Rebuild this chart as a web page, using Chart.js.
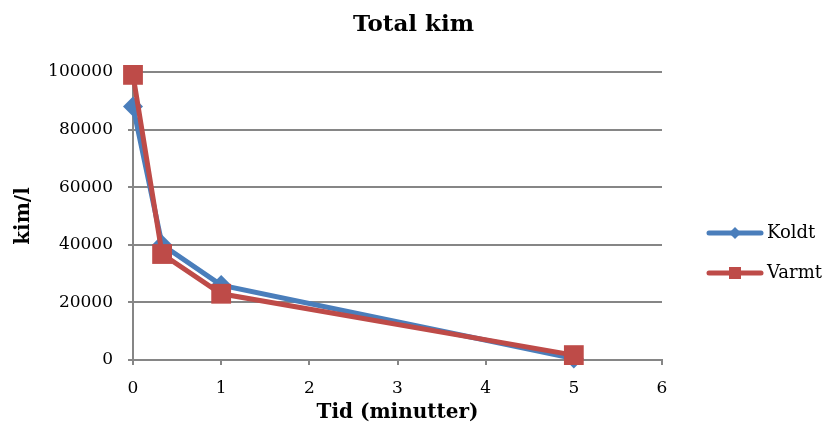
<!DOCTYPE html>
<html>
<head>
<meta charset="utf-8">
<script src="https://cdn.jsdelivr.net/npm/chart.js@4/dist/chart.umd.min.js"></script>
<style>
html,body{margin:0;padding:0;background:#fff;}
#wrap{width:827px;height:426px;position:relative;}
</style>
</head>
<body>
<div id="wrap"><canvas id="c" width="827" height="426"></canvas></div>
<script>
const chartTitle = 'Total kim';
const timeMinutes = [0, 0.33, 1, 5];
const koldtValues = [88000, 40000, 26000, 500];
const varmtValues = [99000, 36800, 23000, 1700];
const seriesNames = ['Koldt', 'Varmt'];
const xTicks = [0, 1, 2, 3, 4, 5, 6];
const yTicks = [0, 20000, 40000, 60000, 80000, 100000];

const BLUE = '#4a7ebb';
const RED = '#be4b48';
const GRID = '#868686';
const FONT = "'DejaVu Serif', Georgia, serif";

const toPts = (xs, ys) => xs.map((x, i) => ({x: x, y: ys[i]}));

const decorPlugin = {
  id: 'decor',
  afterDraw(chart) {
    const ctx = chart.ctx;
    ctx.save();
    ctx.fillStyle = '#000';
    ctx.font = "bold 23px " + FONT;
    ctx.textAlign = 'center';
    ctx.textBaseline = 'middle';
    ctx.fillText(chartTitle, chart.width / 2, 25);
    ctx.restore();
    chart.data.datasets.forEach((ds, i) => {
      const y = 233 + i * 40;
      ctx.save();
      ctx.strokeStyle = ds.borderColor;
      ctx.lineWidth = 5;
      ctx.lineCap = 'round';
      ctx.beginPath(); ctx.moveTo(709, y); ctx.lineTo(761, y); ctx.stroke();
      ctx.fillStyle = ds.borderColor;
      if (ds.pointStyle === 'rectRot') {
        ctx.beginPath();
        ctx.moveTo(735, y - 6); ctx.lineTo(741, y); ctx.lineTo(735, y + 6); ctx.lineTo(729, y);
        ctx.closePath(); ctx.fill();
      } else {
        ctx.fillRect(729, y - 6, 12, 12);
      }
      ctx.fillStyle = '#000';
      ctx.font = "18px " + FONT;
      ctx.textBaseline = 'middle';
      ctx.textAlign = 'left';
      ctx.fillText(ds.label, 767, y);
      ctx.restore();
    });
  }
};

new Chart(document.getElementById('c'), {
  type: 'scatter',
  data: {
    datasets: [
      {label: seriesNames[0], data: toPts(timeMinutes, koldtValues), showLine: true, order: 1,
       borderColor: BLUE, backgroundColor: BLUE, borderWidth: 5,
       pointStyle: 'rectRot', pointRadius: 10, pointHoverRadius: 10, pointBorderWidth: 0, clip: false},
      {label: seriesNames[1], data: toPts(timeMinutes, varmtValues), showLine: true, order: 0,
       borderColor: RED, backgroundColor: RED, borderWidth: 5,
       pointStyle: 'rect', pointRadius: 14, pointHoverRadius: 14, pointBorderWidth: 0, clip: false}
    ]
  },
  options: {
    responsive: false,
    animation: false,
    layout: {padding: {left: 0, right: 165, top: 72, bottom: 0}},
    plugins: {
      legend: {display: false},
      tooltip: {enabled: false},
      title: {display: false}
    },
    scales: {
      x: {
        type: 'linear', min: 0, max: 6,
        afterFit(s) { s.height = 66; },
        afterBuildTicks(s) { s.ticks = xTicks.map(v => ({value: v})); },
        grid: {drawOnChartArea: false, drawTicks: true, tickLength: 5, color: GRID, lineWidth: 2},
        border: {color: GRID, width: 2},
        ticks: {color: '#000', font: {family: FONT, size: 17}, padding: 13, maxRotation: 0},
        title: {display: true, text: 'Tid (minutter)', color: '#000',
          font: {family: FONT, size: 20, weight: 'bold'}, padding: {top: 0, bottom: 1}}
      },
      y: {
        type: 'linear', min: 0, max: 100000,
        afterFit(s) { s.width = 133; },
        afterBuildTicks(s) { s.ticks = yTicks.map(v => ({value: v})); },
        grid: {drawOnChartArea: true, drawTicks: true, tickLength: 5, color: GRID, lineWidth: 2},
        border: {color: GRID, width: 2},
        ticks: {color: '#000', font: {family: FONT, size: 17}, padding: 15,
          callback: v => String(v)},
        title: {display: true, text: 'kim/l', color: '#000',
          font: {family: FONT, size: 20, weight: 'bold'}, padding: {top: 12, bottom: 4}}
      }
    }
  },
  plugins: [decorPlugin]
});
</script>
</body>
</html>
